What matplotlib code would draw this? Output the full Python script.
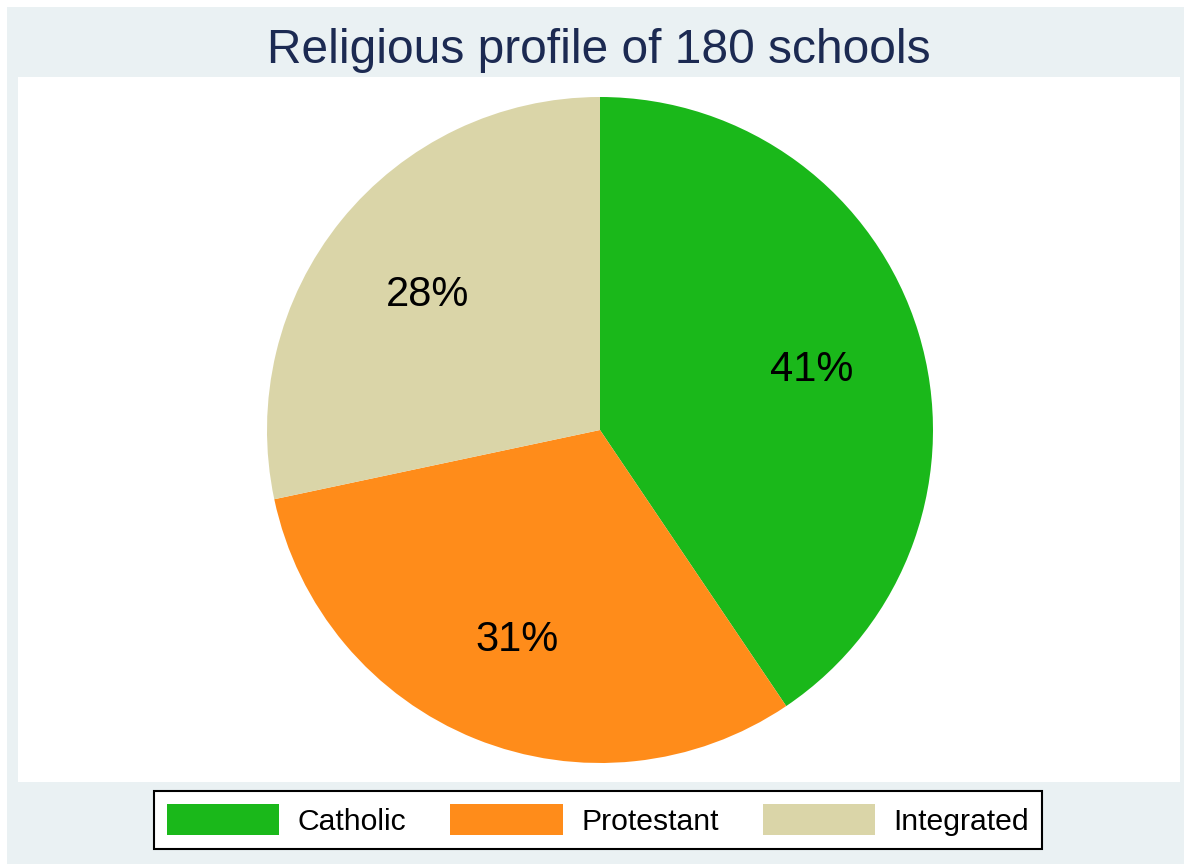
import matplotlib
matplotlib.use("Agg")
import matplotlib.pyplot as plt
from matplotlib.patches import Rectangle, Patch

plt.rcParams['font.family'] = ['Liberation Sans', 'DejaVu Sans']

# data (school counts, 180 in total)
labels = ['Catholic', 'Protestant', 'Integrated']
counts = [73, 56, 51]
colors = ['#1AB81A', '#FF8C1A', '#DAD5A8']
title = 'Religious profile of 180 schools'

W, H = 1184, 864
fig = plt.figure(figsize=(W / 100, H / 100), dpi=100, facecolor='white')

# graph region and plot region backgrounds
fig.patches.append(Rectangle((7 / W, 0), 1 - 7 / W, 1 - 7 / H, transform=fig.transFigure,
                             facecolor='#EAF1F3', edgecolor='none', zorder=-2))
fig.patches.append(Rectangle((18 / W, 1 - 782 / H), (1180 - 18) / W, (782 - 77) / H,
                             transform=fig.transFigure, facecolor='white',
                             edgecolor='none', zorder=-1))

fig.text(599 / W, 1 - 63 / H, title, ha='center', va='baseline', fontsize=34.5, color='#1C2A52')

# pie: centre (600, 430), radius 333 px
cx, cy, r = 600, 430, 333
ax = fig.add_axes([(cx - r) / W, (H - cy - r) / H, 2 * r / W, 2 * r / H])
ax.set_facecolor('none')
wedges, texts, autotexts = ax.pie(counts, colors=colors, startangle=90, counterclock=False,
                                  autopct=lambda p: '%d%%' % round(p), pctdistance=0.665,
                                  radius=1, wedgeprops=dict(linewidth=0),
                                  textprops=dict(fontsize=30, color='black'))
for t in autotexts:
    t.set_va('center_baseline')
ax.set_xlim(-1, 1)
ax.set_ylim(-1, 1)
ax.set_aspect('equal')
ax.axis('off')

handles = [Patch(facecolor=c, edgecolor='none') for c in colors]
leg = fig.legend(handles, labels, loc='center', bbox_to_anchor=(598 / W, 1 - 820 / H),
                 ncol=3, fontsize=21.7, frameon=True, fancybox=False, framealpha=1,
                 handlelength=3.73, handleheight=1.22, handletextpad=0.6,
                 columnspacing=1.47, borderpad=0.42, borderaxespad=0)
leg.get_frame().set_edgecolor('black')
leg.get_frame().set_linewidth(1.5)
leg.get_frame().set_facecolor('white')

fig.savefig('out.png', dpi=100, facecolor=fig.get_facecolor())
